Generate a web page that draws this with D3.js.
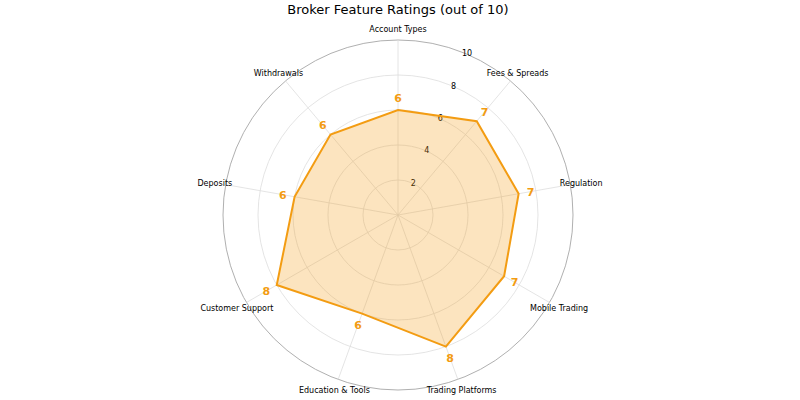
<!DOCTYPE html>
<html lang="en">
<head>
<meta charset="UTF-8">
<title>Broker Feature Ratings</title>
<script src="https://d3js.org/d3.v7.min.js"></script>
<style>body{margin:0;background:#fff}</style>
</head>
<body>
<svg width="800" height="400"></svg>
<script>
const categories = ['Account Types', 'Fees & Spreads', 'Regulation', 'Mobile Trading', 'Trading Platforms',
                    'Education & Tools', 'Customer Support', 'Deposits', 'Withdrawals'];
const ratings = [6, 7, 7, 7, 8, 6, 8, 6, 6];
const ringTicks = [2, 4, 6, 8, 10];

const svg = d3.select('svg');
const cx = 398, cy = 215;
const rScale = d3.scaleLinear().domain([0, 10]).range([0, 175]);
const angle = d3.scaleLinear().domain([0, categories.length]).range([0, 2 * Math.PI]);
const pt = (i, r) => [cx + r * Math.sin(angle(i)), cy - r * Math.cos(angle(i))];
const color = '#f39c12';

svg.append('text').attr('x', 398).attr('y', 14).attr('text-anchor', 'middle')
   .attr('font-family', 'DejaVu Sans').attr('font-size', 13).text('Broker Feature Ratings (out of 10)');

// rings
svg.selectAll('circle.ring').data(ringTicks).enter().append('circle')
   .attr('cx', cx).attr('cy', cy).attr('r', d => rScale(d)).attr('fill', 'none')
   .attr('stroke', d => d === 10 ? '#b0b0b0' : '#dddddd').attr('stroke-width', d => d === 10 ? 1 : 0.8);

// spokes
svg.selectAll('line.spoke').data(categories).enter().append('line')
   .attr('x1', cx).attr('y1', cy)
   .attr('x2', (d, i) => pt(i, rScale(10))[0]).attr('y2', (d, i) => pt(i, rScale(10))[1])
   .attr('stroke', '#dddddd').attr('stroke-width', 0.8);

// tick labels
const tickAng = 22.5 * Math.PI / 180;
svg.selectAll('text.tick').data(ringTicks).enter().append('text')
   .attr('x', d => cx + rScale(d) * Math.sin(tickAng) + 2)
   .attr('y', d => cy - rScale(d) * Math.cos(tickAng) + 3)
   .attr('font-family', 'DejaVu Sans').attr('font-size', 8).attr('text-anchor', 'middle')
   .text(d => d);

// area
const line = d3.lineRadial().angle((d, i) => angle(i)).radius(d => rScale(d)).curve(d3.curveLinearClosed);
svg.append('path').attr('transform', `translate(${cx},${cy})`).attr('d', line(ratings))
   .attr('fill', color).attr('fill-opacity', 0.27).attr('stroke', color).attr('stroke-width', 2);

// category labels
svg.selectAll('text.cat').data(categories).enter().append('text')
   .attr('x', (d, i) => pt(i, 186)[0]).attr('y', (d, i) => pt(i, 186)[1] + 3)
   .attr('text-anchor', 'middle')
   .attr('font-family', 'DejaVu Sans').attr('font-size', 8).text(d => d);

// value labels
svg.selectAll('text.val').data(ratings).enter().append('text')
   .attr('x', (d, i) => pt(i, rScale(d) + 12)[0]).attr('y', (d, i) => pt(i, rScale(d) + 12)[1] + 4)
   .attr('text-anchor', 'middle').attr('font-family', 'DejaVu Sans').attr('font-size', 11)
   .attr('font-weight', 'bold').attr('fill', color).text(d => d);
</script>
</body>
</html>
